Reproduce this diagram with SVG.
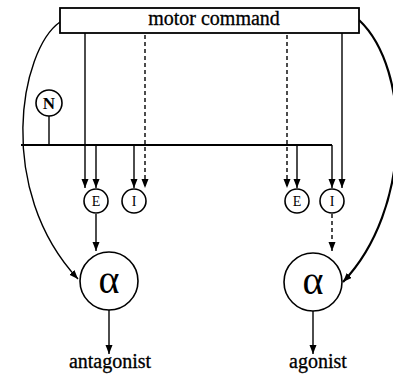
<svg xmlns="http://www.w3.org/2000/svg" width="393" height="378" viewBox="0 0 393 378">
<style>
.ln{fill:none;stroke:#000;stroke-width:1.4}
.ds{fill:none;stroke:#000;stroke-width:1.4;stroke-dasharray:4 3}
.nd{fill:#fff;stroke:#000;stroke-width:1.6}
.t{font-family:"Liberation Serif","DejaVu Serif",serif;fill:#000;text-anchor:middle}
.lb{font-size:20px;stroke:#000;stroke-width:0.3}
</style>
<defs>
<marker id="ah" markerUnits="userSpaceOnUse" markerWidth="10" markerHeight="8" refX="9" refY="3.5" orient="auto">
<path d="M0,0 L9,3.5 L0,7 z" fill="#000"/>
</marker>
</defs>
<rect width="393" height="378" fill="#fff"/>
<g id="connectors">
<path class="ln" d="M85,33 V188" marker-end="url(#ah)"/>
<path class="ln" d="M96,145 V188" marker-end="url(#ah)"/>
<path class="ln" d="M134,145 V188" marker-end="url(#ah)"/>
<path class="ds" d="M145,35 V188" marker-end="url(#ah)"/>
<path class="ds" d="M287,35 V188" marker-end="url(#ah)"/>
<path class="ln" d="M297,145 V188" marker-end="url(#ah)"/>
<path class="ln" d="M342,33 V188" marker-end="url(#ah)"/>
<path class="ln" d="M96,214 V251" marker-end="url(#ah)"/>
<path class="ds" d="M332,214 V251" marker-end="url(#ah)"/>
<path class="ln" d="M109,310 V354" marker-end="url(#ah)"/>
<path class="ln" d="M313,311 V354" marker-end="url(#ah)"/>
<path class="ln" d="M60,22 C20,50 -5,190 78,279" marker-end="url(#ah)"/>
<path fill="none" stroke="#000" stroke-width="2.2" d="M359,20 C412,70 412,210 343,282" marker-end="url(#ah)"/>
<path class="ln" d="M49,116 V145"/>
</g>
<g id="bus">
<path fill="none" stroke="#000" stroke-width="2" d="M21,145 H332"/>
<path class="ln" d="M332,145 V188" marker-end="url(#ah)"/>
</g>
<g id="motor-command">
<rect x="60" y="8" width="299" height="25" fill="#fff" stroke="#000" stroke-width="1.8"/>
<text class="t lb" x="214" y="25">motor command</text>
</g>
<g id="N">
<circle class="nd" cx="49" cy="103" r="13"/>
<text class="t" x="49" y="109" font-size="17" font-weight="bold">N</text>
</g>
<g id="E-left">
<circle class="nd" cx="96" cy="201" r="12"/>
<text class="t" x="96" y="206" font-size="14">E</text>
</g>
<g id="I-left">
<circle class="nd" cx="134" cy="201" r="12"/>
<text class="t" x="134" y="206" font-size="14">I</text>
</g>
<g id="E-right">
<circle class="nd" cx="297" cy="201" r="12"/>
<text class="t" x="297" y="206" font-size="14">E</text>
</g>
<g id="I-right">
<circle class="nd" cx="332" cy="201" r="12"/>
<text class="t" x="332" y="206" font-size="14">I</text>
</g>
<g id="alpha-left">
<circle class="nd" cx="109" cy="281" r="29" stroke-width="2"/>
<text class="t" x="109" y="293" font-size="40">α</text>
</g>
<g id="alpha-right">
<circle class="nd" cx="313" cy="282" r="29" stroke-width="2"/>
<text class="t" x="313" y="294" font-size="40">α</text>
</g>
<g id="labels">
<text class="t lb" x="110" y="368">antagonist</text>
<text class="t lb" x="318" y="368">agonist</text>
</g>
</svg>
